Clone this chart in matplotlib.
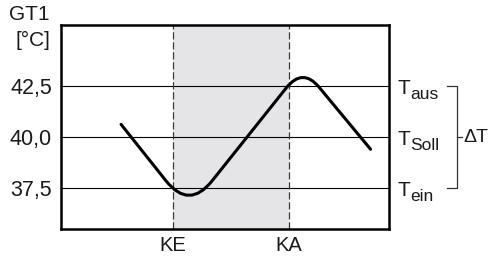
import matplotlib
matplotlib.use("Agg")
import matplotlib.pyplot as plt
from matplotlib.path import Path
from matplotlib.patches import PathPatch
import matplotlib.transforms as mtransforms

plt.rcParams['font.family'] = ['Liberation Sans', 'DejaVu Sans']

# ---- data ----
ytick_values = [37.5, 40.0, 42.5]
ytick_labels = ["37,5", "40,0", "42,5"]
marker_x = [3.40, 6.95]
marker_labels = ["KE", "KA"]
curve_time = [1.83, 3.90, 7.36, 9.43]       # polyline corners of the temperature curve
curve_temp = [40.62, 36.43, 43.42, 39.40]
level_values = [42.5, 40.0, 37.5]
level_main = ["T", "T", "T"]
level_sub = ["aus", "Soll", "ein"]
delta_label = "\u0394T"
y_title = "GT1"
y_unit = "[°C]"

TXT = "#1a1a1a"
fig = plt.figure(figsize=(5.0, 2.57), dpi=100)
ax = fig.add_axes([61/500, 1-228.7/257, (389.3-61)/500, (228.7-25)/257])
ax.set_xlim(0, 10)
ax.set_ylim(35.5, 45.5)

# shaded interval
ax.axvspan(marker_x[0], marker_x[1], color="#e5e5e7", lw=0, zorder=0.5)

# horizontal level lines
for v in ytick_values:
    ax.axhline(v, color="black", lw=0.8, zorder=1)

# dashed markers
for xv in marker_x:
    ax.axvline(xv, color="#3a3a3a", lw=0.9, linestyle=(0, (5.8, 2.2)), zorder=2)

# temperature curve with rounded corners (quadratic bezier at the corners)
round_dx = [None, 0.70, 0.50, None]
verts = [(curve_time[0], curve_temp[0])]
codes = [Path.MOVETO]
for i in range(1, len(curve_time) - 1):
    x0, y0 = curve_time[i-1], curve_temp[i-1]
    x1, y1 = curve_time[i], curve_temp[i]
    x2, y2 = curve_time[i+1], curve_temp[i+1]
    d = round_dx[i]
    fa = d / (x1 - x0)
    fb = d / (x2 - x1)
    pa = (x1 - fa*(x1-x0), y1 - fa*(y1-y0))
    pb = (x1 + fb*(x2-x1), y1 + fb*(y2-y1))
    verts += [pa, (x1, y1), pb]
    codes += [Path.LINETO, Path.CURVE3, Path.CURVE3]
verts.append((curve_time[-1], curve_temp[-1]))
codes.append(Path.LINETO)
ax.add_patch(PathPatch(Path(verts, codes), facecolor="none", edgecolor="black",
                       lw=2.2, capstyle="round", joinstyle="round", zorder=3))

# axes styling
for s in ax.spines.values():
    s.set_linewidth(1.8)
    s.set_color("black")
ax.set_yticks(ytick_values)
ax.set_yticklabels(ytick_labels)
ax.set_xticks(marker_x)
ax.set_xticklabels(marker_labels)
ax.tick_params(axis="y", length=0, pad=6.5, labelsize=15.5, colors=TXT)
ax.tick_params(axis="x", length=0, pad=5.5, labelsize=14.5, colors=TXT)

# y title
fig.text(29.5/500, 1-14/257, y_title, ha="center", va="center", fontsize=15, color=TXT)
fig.text(33/500, 1-40/257, y_unit, ha="center", va="center", fontsize=15, color=TXT)

# right-side level labels
trans = mtransforms.blended_transform_factory(ax.transAxes, ax.transData)
for v, m, sb in zip(level_values, level_main, level_sub):
    ax.annotate(m, xy=(1, v), xycoords=trans, xytext=(6, -5.8), textcoords="offset points",
                ha="left", va="baseline", fontsize=15, color=TXT, annotation_clip=False)
    ax.annotate(sb, xy=(1, v), xycoords=trans, xytext=(15.3, -9.6), textcoords="offset points",
                ha="left", va="baseline", fontsize=12.5, color=TXT, annotation_clip=False)

# bracket for delta T
bx0 = 446.5 / 500
bx1 = 456.5 / 500
bx2 = 462.0 / 500
def fy(v):
    return fig.transFigure.inverted().transform(ax.transData.transform((0, v)))[1]
ytop, ymid, ybot = fy(level_values[0]), fy(level_values[1]), fy(level_values[2])
fig.add_artist(plt.Line2D([bx0, bx1, bx1, bx0], [ytop, ytop, ybot, ybot],
                          color="#333333", lw=0.9, transform=fig.transFigure))
fig.add_artist(plt.Line2D([bx1, bx2], [ymid, ymid], color="#333333", lw=0.9,
                          transform=fig.transFigure))
fig.text(463.5/500, ymid, delta_label, ha="left", va="center", fontsize=14, color=TXT)

fig.savefig("out.png", dpi=100)
